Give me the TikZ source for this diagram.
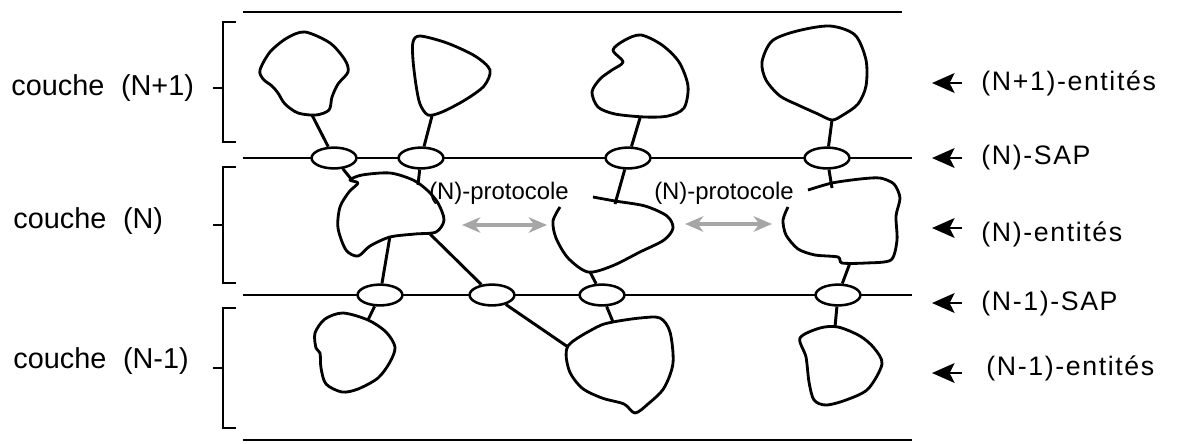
\documentclass[tikz,border=0pt]{standalone}
\usepackage{fontspec}
\setmainfont{Liberation Sans}
\newfontfamily\spacedfont[LetterSpace=6]{Liberation Sans}
\usetikzlibrary{arrows.meta,shapes.geometric}

\begin{document}
\begin{tikzpicture}[x=0.025cm,y=-0.025cm,line width=2.1pt,>=Stealth,
  sap/.style={draw,ellipse,fill=white,minimum width=1.12cm,minimum height=0.52cm,inner sep=0pt,line width=1.8pt},
  blob/.style={line width=2pt,line join=round},
  layer/.style={inner sep=0pt,anchor=west,font=\fontsize{20.5}{24}\selectfont},
  entity/.style={inner sep=0pt,anchor=west,font=\spacedfont\fontsize{19}{23}\selectfont},
  proto/.style={inner sep=0pt,font=\fontsize{17}{20}\selectfont},
  sign/.style={line width=2pt,{Stealth[length=16pt,width=14pt,inset=3.5pt]}-},
  peer/.style={draw=gray!70,line width=2.2pt,
    {Stealth[length=13pt,width=11pt,inset=4pt,fill=gray!40]}-{Stealth[length=13pt,width=11pt,inset=4pt,fill=gray!40]}}]

\useasboundingbox (0,0) rectangle (1184,443);

% =====================
% Niveaux verticaux
% =====================
\def\SapY{158}
\def\SapYb{295}

% =====================
% Limites et lignes SAP
% =====================
\draw (243,12) -- (902,12);
\draw (243,440) -- (912,440);
\draw (243,\SapY) -- (912,\SapY);
\draw (243,\SapYb) -- (912,\SapYb);

\foreach \top/\bot/\mid in {22/142/88, 167/283/225, 308/428/368} {
  \draw[line width=1.6pt] (236,\top) -- (223,\top) -- (223,\bot) -- (236,\bot);
  \draw[line width=1.6pt] (223,\mid) -- (213,\mid);
}

% =====================
% Couches (texte gauche)
% =====================
\node[layer] (lay1) at (10,88) {couche\hspace{0.3em} (N+1)};
\node[layer] (lay2) at (12,221) {couche\hspace{0.3em} (N)};
\node[layer] (lay3) at (12,361) {couche\hspace{0.3em} (N-1)};

% =====================
% Entites (N+1)
% =====================
\draw[blob] plot[smooth cycle] coordinates {(305,32) (330,43) (345,60) (348,72) (338,84)
  (332,97) (329,110) (316,115) (298,113) (285,104) (278,93) (272,86) (263,79) (260,70) (270,52) (287,38)};
\draw[blob] plot[smooth cycle] coordinates {(420,36) (447,43) (475,56) (490,70) (484,86)
  (465,100) (442,112) (428,115) (420,104) (416,85) (413,60) (413,42)};
\draw[blob] plot[smooth cycle] coordinates {(613,50) (625,40) (641,35) (662,45) (679,62)
  (688,86) (684,108) (668,116) (645,117) (615,114) (598,107) (592,92) (600,79) (612,70) (623,62)};
\draw[blob] plot[smooth cycle] coordinates {(772,41) (797,31) (830,26) (855,35) (866,60)
  (866,86) (858,104) (843,115) (832,120) (818,114) (798,105) (780,96) (766,80) (762,62)};

% =====================
% Entites (N)
% =====================
\draw[blob] plot[smooth cycle, tension=0.5] coordinates {(358,183) (350,180) (362,175) (390,173)
  (413,180) (427,190) (438,203) (444,220) (436,232) (415,234) (390,237) (370,246) (358,256)
  (346,250) (338,228) (340,207) (349,192)};
\draw[blob] plot[smooth] coordinates {(560,207) (553,221) (556,238) (568,258) (588,272)
  (612,266) (640,252) (664,240) (673,228) (667,216) (645,206) (615,201) (593,197)};
\draw[blob] plot[smooth, tension=0.45] coordinates {(808,190) (832,183) (860,179) (880,178)
  (894,184) (900,198) (896,216) (897,240) (891,260) (866,263) (842,263) (838,257)
  (815,255) (798,249) (786,235) (783,220) (788,207)};

% =====================
% Entites (N-1)
% =====================
\draw[blob] plot[smooth cycle] coordinates {(343,313) (368,320) (386,332) (395,347) (390,362)
  (378,378) (358,389) (342,392) (326,384) (321,368) (320,353) (316,348) (315,333) (325,319)};
\draw[blob] plot[smooth cycle, tension=0.5] coordinates {(568,346) (597,327) (613,322) (640,318)
  (660,318) (670,332) (673,363) (664,388) (648,404) (635,413) (624,404) (602,398) (582,388)
  (569,370)};
\draw[blob] plot[smooth cycle] coordinates {(820,328) (838,327) (860,336) (874,348) (882,364)
  (868,389) (846,400) (826,405) (814,400) (809,382) (806,357) (800,338)};

% =====================
% Points d'acces (SAP)
% =====================
\node[sap] (sa1) at (334,\SapY) {};
\node[sap] (sa2) at (421,\SapY) {};
\node[sap] (sa3) at (628,\SapY) {};
\node[sap] (sa4) at (827,\SapY) {};
\node[sap] (sb1) at (380,\SapYb) {};
\node[sap] (sb2) at (492,\SapYb) {};
\node[sap] (sb3) at (602,\SapYb) {};
\node[sap] (sb4) at (838,\SapYb) {};

% points d'attache des entites
\coordinate (a1) at (312,115);
\coordinate (b1) at (432,116);
\coordinate (c1) at (640,118);
\coordinate (d1) at (832,120);
\coordinate (e1) at (352,180);
\coordinate (e2) at (418,185);
\coordinate (e3) at (390,236);
\coordinate (e4) at (430,234);
\coordinate (f1) at (615,204);
\coordinate (f2) at (590,272);
\coordinate (h1) at (832,188);
\coordinate (h2) at (850,263);
\coordinate (i1) at (368,320);
\coordinate (g1) at (568,347);
\coordinate (g2) at (613,322);
\coordinate (j1) at (835,327);

\draw (a1) -- (sa1);
\draw (b1) -- (sa2);
\draw (c1) -- (sa3);
\draw (d1) -- (sa4);
\draw (sa1) -- (e1);
\draw (sa2) -- (e2);
\draw (sa3) -- (f1);
\draw (sa4) -- (h1);
\draw (e3) -- (sb1);
\draw (e4) -- (sb2);
\draw (sb2) -- (g1);
\draw (f2) -- (sb3);
\draw (h2) -- (sb4);
\draw (sb1) -- (i1);
\draw (sb3) -- (g2);
\draw (sb4) -- (j1);

% =====================
% Protocoles (N)
% =====================
\node[proto] (pro1) at (499,193) {(N)-protocole};
\node[proto] (pro2) at (724,193) {(N)-protocole};
\coordinate (p1a) at (462,225);
\coordinate (p1b) at (547,225);
\coordinate (p2a) at (685,224);
\coordinate (p2b) at (772,224);
\draw[peer] (p1a) -- (p1b);
\draw[peer] (p2a) -- (p2b);

% =====================
% Legende droite
% =====================
\node[entity] (ent1) at (980,83) {(N+1)-entités};
\node[entity] (sapn) at (980,158) {(N)-SAP};
\node[entity] (ent2) at (980,234) {(N)-entités};
\node[entity] (sapm) at (980,304) {(N-1)-SAP};
\node[entity] (ent3) at (985,368) {(N-1)-entités};

\coordinate (t1) at (932,83);
\coordinate (t2) at (932,158);
\coordinate (t3) at (932,228);
\coordinate (t4) at (932,303);
\coordinate (t5) at (932,373);
\foreach \t in {t1,t2,t3,t4,t5}
  \draw[sign] (\t) -- ++(30,0);

\end{tikzpicture}
\end{document}
